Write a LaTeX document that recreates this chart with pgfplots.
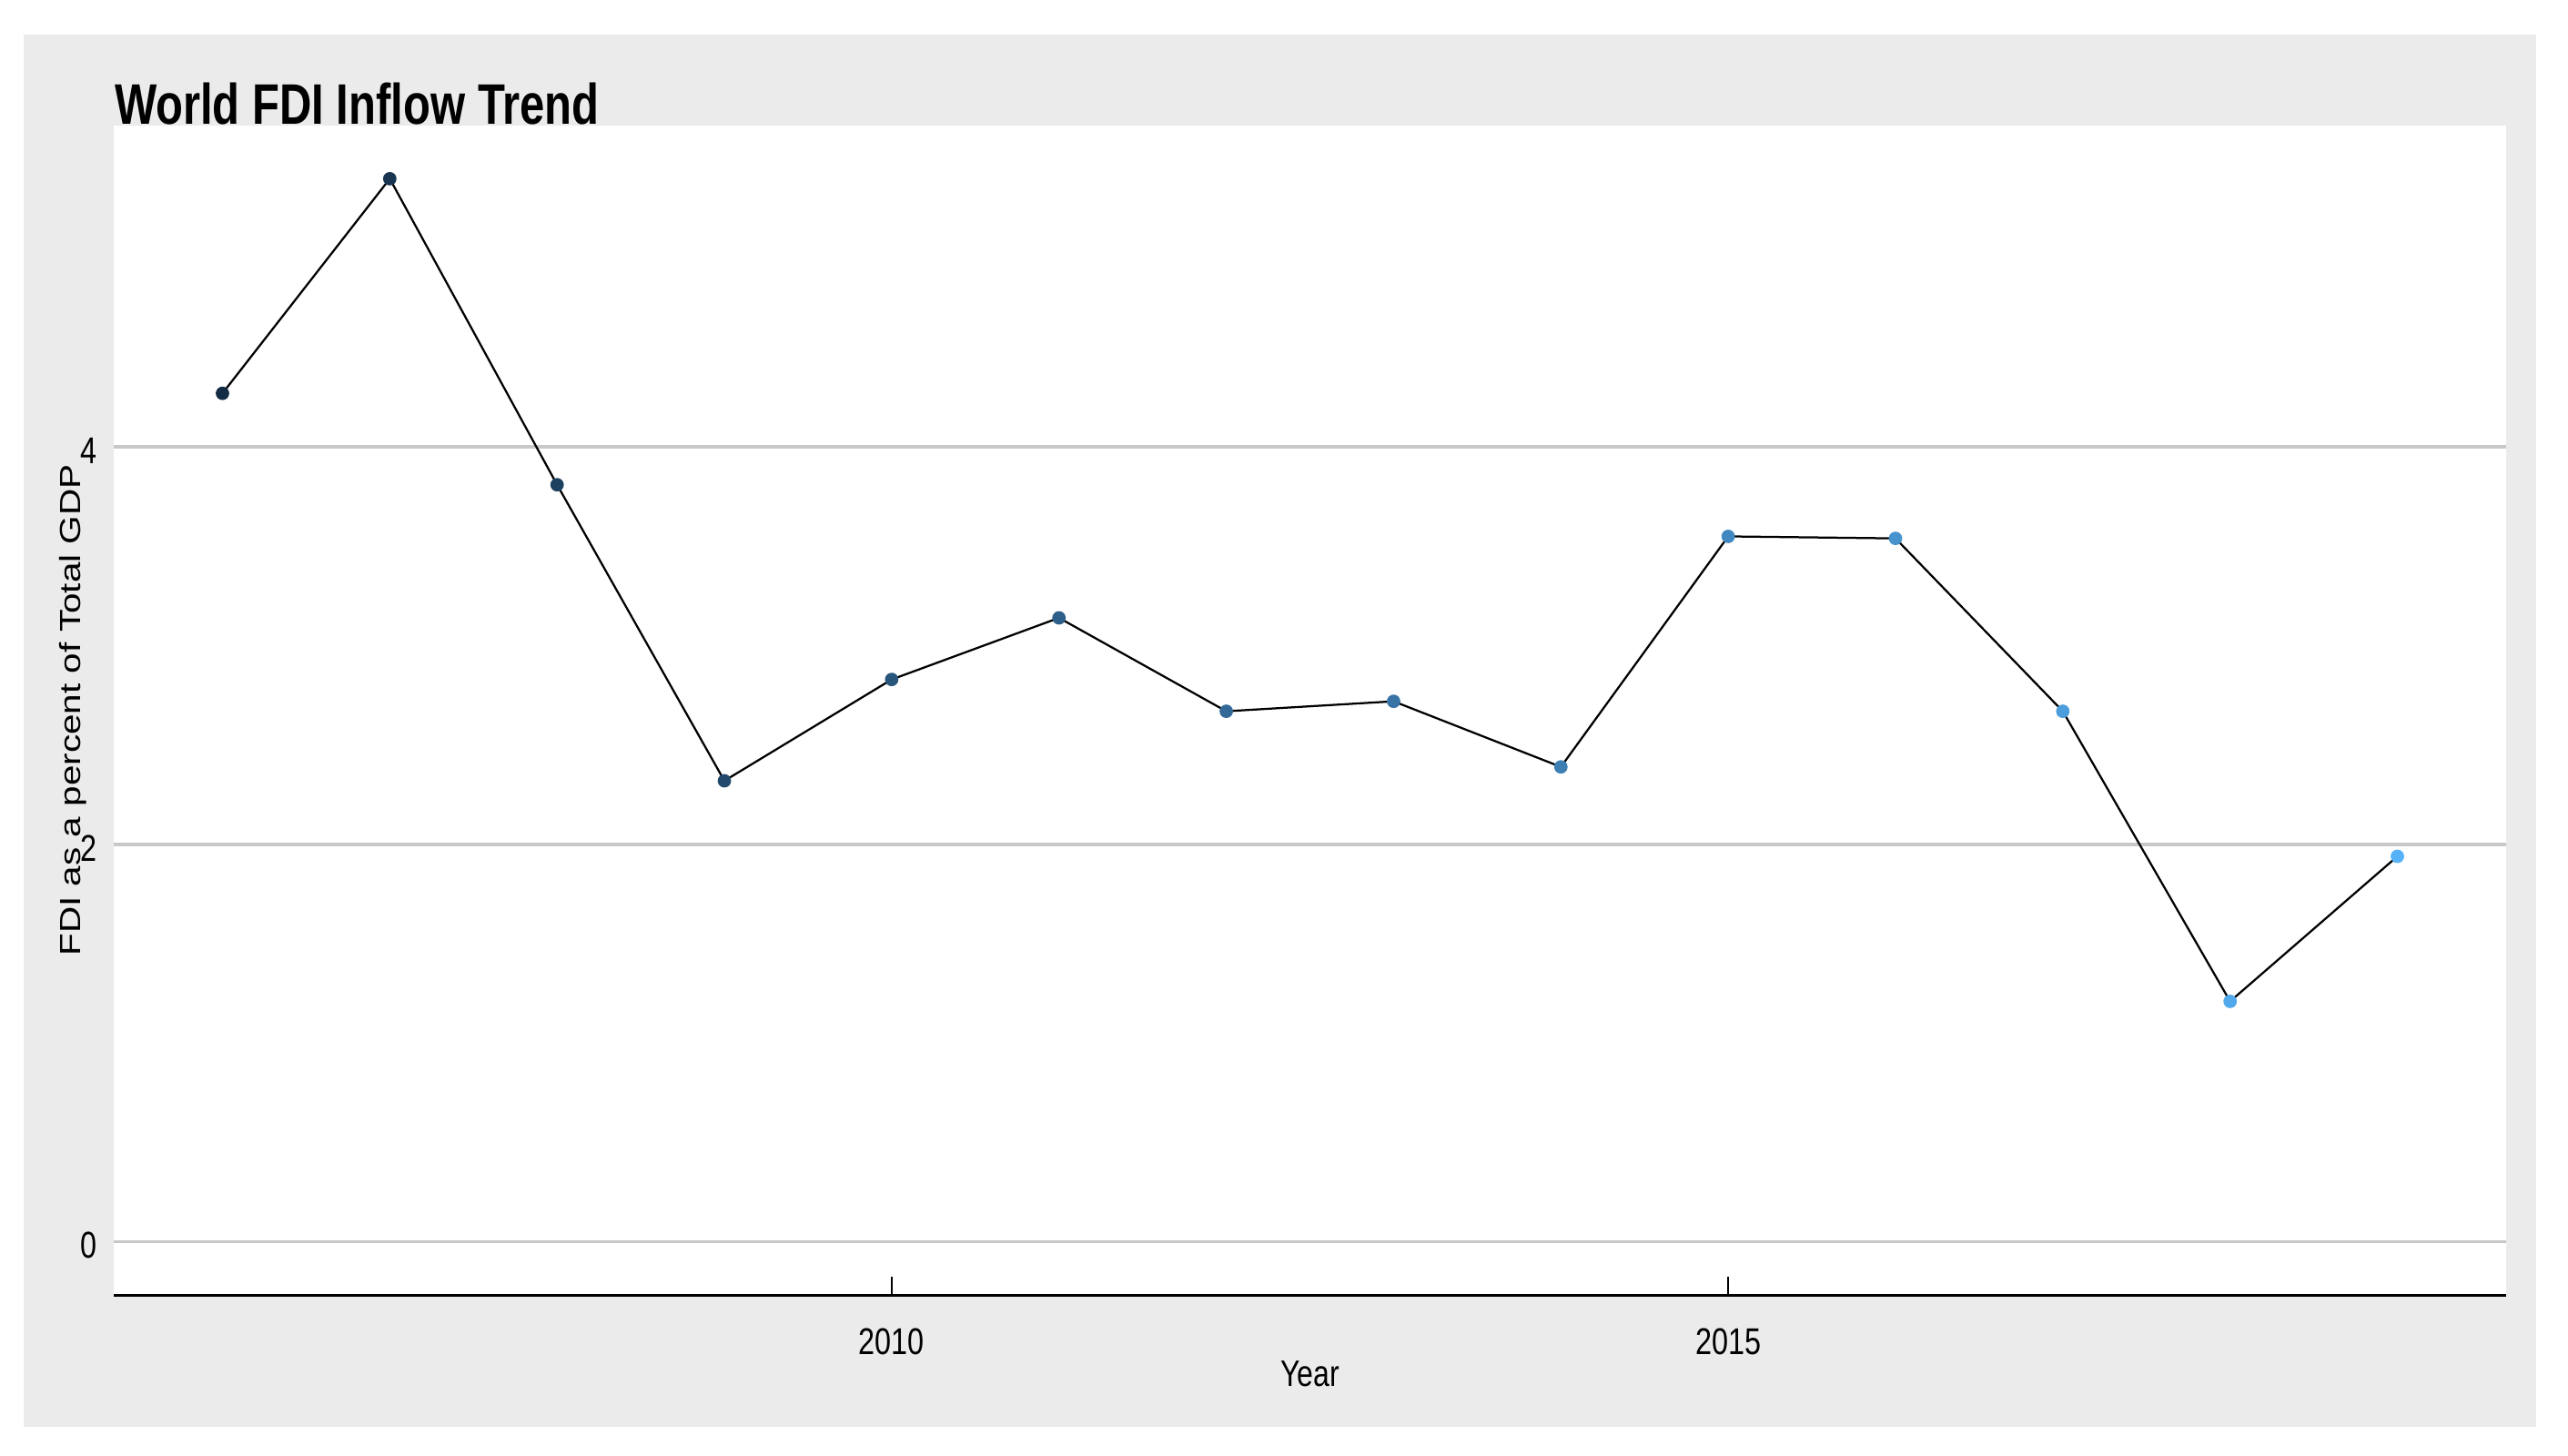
\documentclass[border=0pt]{standalone}
\usepackage{fontspec}
\setmainfont{Liberation Sans}
\newfontfamily\titlefont[FakeStretch=0.78]{Liberation Sans}
\newfontfamily\condfont[FakeStretch=0.79]{Liberation Sans}
\newfontfamily\ylabfont[FakeStretch=1.266]{Liberation Sans}
\usepackage{pgfplots}
\pgfplotsset{compat=1.18}
\definecolor{panelgray}{RGB}{235,235,235}
\definecolor{gridgray}{RGB}{200,200,200}
\begin{document}
\begin{tikzpicture}
\fill[white] (-25pt,-35.2pt) rectangle (539.4pt,284.6pt);
\fill[panelgray] (-19.8pt,-29pt) rectangle (532.4pt,277pt);
\begin{axis}[
  scale only axis,
  width=525.8pt, height=257pt,
  anchor=south west, at={(0pt,0pt)},
  xmin=2005.35, xmax=2019.65,
  ymin=-0.2675, ymax=5.6175,
  axis background/.style={fill=white},
  axis x line*=bottom, axis y line*=left,
  y axis line style={draw=none},
  x axis line style={black, line width=0.6pt},
  tick align=inside,
  major tick length=4pt,
  xtick={2010,2015}, xticklabels={2010,2015},
  ytick={0,2,4}, yticklabels={0,2,4},
  xtick style={black, line width=0.45pt},
  ytick style={draw=none},
  ymajorgrids,
  major grid style={gridgray, line width=0.75pt},
  xticklabel style={font=\condfont\fontsize{8.2}{9}\selectfont, anchor=base, yshift=-13pt},
  yticklabel style={font=\condfont\fontsize{8.2}{9}\selectfont, anchor=east, inner sep=0pt, xshift=-3.4pt, yshift=-0.8pt},
  xlabel={Year},
  xlabel style={font=\condfont\fontsize{8.1}{9}\selectfont, at={(axis description cs:0.5,-0.0778)}, anchor=base},
  ylabel={FDI as a percent of Total GDP},
  ylabel style={font=\ylabfont\fontsize{6.4}{8}\selectfont, at={(axis description cs:-0.01407,0.5)}, anchor=base, rotate=0},
  colormap={gg}{rgb255(0cm)=(19,43,67); rgb255(1cm)=(86,177,247)},
]
\addplot[black, line width=0.45pt, mark=*, mark size=1.25pt,
  scatter, point meta=x,
  scatter/use mapped color={draw=mapped color, fill=mapped color}]
  table {
x y
2006 4.27
2007 5.35
2008 3.81
2009 2.32
2010 2.83
2011 3.14
2012 2.67
2013 2.72
2014 2.39
2015 3.55
2016 3.54
2017 2.67
2018 1.21
2019 1.94
};
\end{axis}
\node[anchor=base west, inner sep=0pt, font=\titlefont\bfseries\fontsize{12.56}{14}\selectfont] at (0pt,257.4pt) {World FDI Inflow Trend};
\end{tikzpicture}
\end{document}
